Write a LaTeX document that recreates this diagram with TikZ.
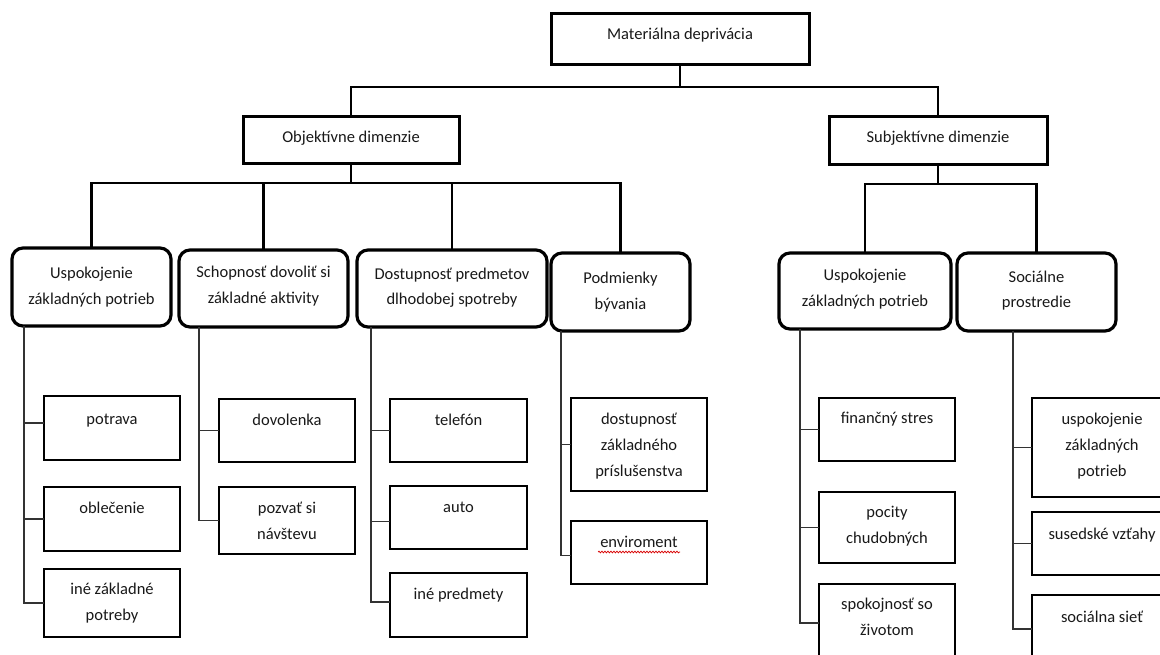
\documentclass[tikz,border=0pt]{standalone}
\usepackage{fontspec}
\setmainfont{Carlito}
\usetikzlibrary{calc,decorations.pathmorphing}
\newcommand\bxt[4]{\parbox[c][#2][t]{#1}{\centering\rule{0pt}{#3}#4\par}}
\tikzset{
  every node/.style={inner sep=0pt, outer sep=0pt, font=\fontsize{16.5}{26}\selectfont, text=black!90},
  topbox/.style={draw=black, line width=3pt},
  midbox/.style={draw=black, line width=3.2pt, rounded corners=11pt},
  leafbox/.style={draw=black, line width=2.4pt},
  conn/.style={draw=black, line width=2.6pt, line join=miter, line cap=rect},
  stem/.style={draw=black, line width=2.3pt, line join=miter},
  rail/.style={draw=black!80, line width=1.5pt, line join=miter},
}
\begin{document}
\begin{tikzpicture}[x=1pt, y=-1pt]
\fill[white] (0,0) rectangle (1160,655);
\useasboundingbox (0,0) rectangle (1160,655);

% level 1-2
\node[topbox] (mat) at (680,39.5) {\bxt{258pt}{51pt}{26pt}{Materiálna deprivácia}};
\node[topbox] (obj) at (351,140.5) {\bxt{216pt}{47pt}{26pt}{Objektívne dimenzie}};
\node[topbox] (subj) at (938,141) {\bxt{218pt}{48pt}{26pt}{Subjektívne dimenzie}};

% level 3
\node[midbox] (a1) at (91.5,287) {\bxt{159pt}{78pt}{31pt}{Uspokojenie\\ základných potrieb}};
\node[midbox] (a2) at (263.5,288.5) {\bxt{169pt}{77pt}{28pt}{Schopnosť dovoliť si\\ základné aktivity}};
\node[midbox] (a3) at (452,288.5) {\bxt{190pt}{77pt}{29pt}{Dostupnosť predmetov\\ dlhodobej spotreby}};
\node[midbox] (a4) at (620.5,292) {\bxt{139pt}{78pt}{30pt}{Podmienky\\ bývania}};
\node[midbox] (b1) at (865,291) {\bxt{172pt}{76pt}{28pt}{Uspokojenie\\ základných potrieb}};
\node[midbox] (b2) at (1036.5,292) {\bxt{159pt}{78pt}{29pt}{Sociálne\\ prostredie}};

% level 4
\node[leafbox] (a11) at (112,428) {\bxt{136pt}{64pt}{28pt}{potrava}};
\node[leafbox] (a12) at (112,519) {\bxt{136pt}{64pt}{26pt}{oblečenie}};
\node[leafbox] (a13) at (112,603) {\bxt{136pt}{68pt}{25pt}{iné základné\\ potreby}};
\node[leafbox] (a21) at (287,430.5) {\bxt{136pt}{63pt}{26pt}{dovolenka}};
\node[leafbox] (a22) at (287,520.5) {\bxt{136pt}{67pt}{26pt}{pozvať si\\ návštevu}};
\node[leafbox] (a31) at (458.5,430.5) {\bxt{137pt}{63pt}{26pt}{telefón}};
\node[leafbox] (a32) at (458.5,517.5) {\bxt{137pt}{63pt}{26pt}{auto}};
\node[leafbox] (a33) at (458.5,605) {\bxt{137pt}{64pt}{26pt}{iné predmety}};
\node[leafbox] (a41) at (639,444.5) {\bxt{136pt}{93pt}{26pt}{dostupnosť\\ základného\\ príslušenstva}};
\node[leafbox] (a42) at (639,552.5) {\bxt{136pt}{63pt}{26pt}{enviroment}};
\node[leafbox] (b11) at (887,429.5) {\bxt{136pt}{63pt}{25pt}{finančný stres}};
\node[leafbox] (b12) at (887,527.5) {\bxt{136pt}{71pt}{25pt}{pocity\\ chudobných}};
\node[leafbox] (b13) at (887,623) {\bxt{136pt}{78pt}{25pt}{spokojnosť so\\ životom}};
\node[leafbox] (b21) at (1102,447.5) {\bxt{140pt}{99pt}{26pt}{uspokojenie\\ základných\\ potrieb}};
\node[leafbox] (b22) at (1102,543.5) {\bxt{140pt}{63pt}{27pt}{susedské vzťahy}};
\node[leafbox] (b23) at (1102,629) {\bxt{140pt}{68pt}{27pt}{sociálna sieť}};

% spell-check squiggle under "enviroment"
\draw[red!85!black, line width=0.7pt, decorate, decoration={snake, amplitude=0.9pt, segment length=3pt}]
  ($(a42.north)+(-41,31)$) -- ($(a42.north)+(41,31)$);

% top connectors
\draw[conn] (mat.south) -- (mat.south |- 0,87);
\draw[conn] (obj.north) -- (obj.north |- 0,87) -- (subj.north |- 0,87) -- (subj.north);

\draw[stem] (obj.south) -- (obj.south |- 0,183);
\draw[stem] (a1.north) -- (a1.north |- 0,183) -- (a4.north |- 0,183) -- (a4.north);
\draw[stem] (a2.north) -- (a2.north |- 0,183);
\draw[stem] (a3.north) -- (a3.north |- 0,183);

\draw[stem] (subj.south) -- (subj.south |- 0,184);
\draw[stem] (b1.north) -- (b1.north |- 0,184) -- (b2.north |- 0,184) -- (b2.north);

% rails
\coordinate (ra1) at (a1.south -| 24,0);
\coordinate (ra2) at (a2.south -| 199,0);
\coordinate (ra3) at (a3.south -| 371,0);
\coordinate (ra4) at (a4.south -| 561,0);
\coordinate (rb1) at (b1.south -| 800,0);
\coordinate (rb2) at (b2.south -| 1013,0);

\draw[rail] (ra1) |- ($(a11.west)+(0,-5)$);
\draw[rail] (ra1) |- (a12.west);
\draw[rail] (ra1) |- (a13.west);
\draw[rail] (ra2) |- (a21.west);
\draw[rail] (ra2) |- (a22.west);
\draw[rail] (ra3) |- (a31.west);
\draw[rail] (ra3) |- ($(a32.west)+(0,4)$);
\draw[rail] (ra3) |- ($(a33.west)+(0,-3)$);
\draw[rail] (ra4) |- (a41.west);
\draw[rail] (ra4) |- ($(a42.west)+(0,3)$);
\draw[rail] (rb1) |- (b11.west);
\draw[rail] (rb1) |- (b12.west);
\draw[rail] (rb1) |- (b13.west);
\draw[rail] (rb2) |- (b21.west);
\draw[rail] (rb2) |- (b22.west);
\draw[rail] (rb2) |- (b23.west);
\end{tikzpicture}
\end{document}
